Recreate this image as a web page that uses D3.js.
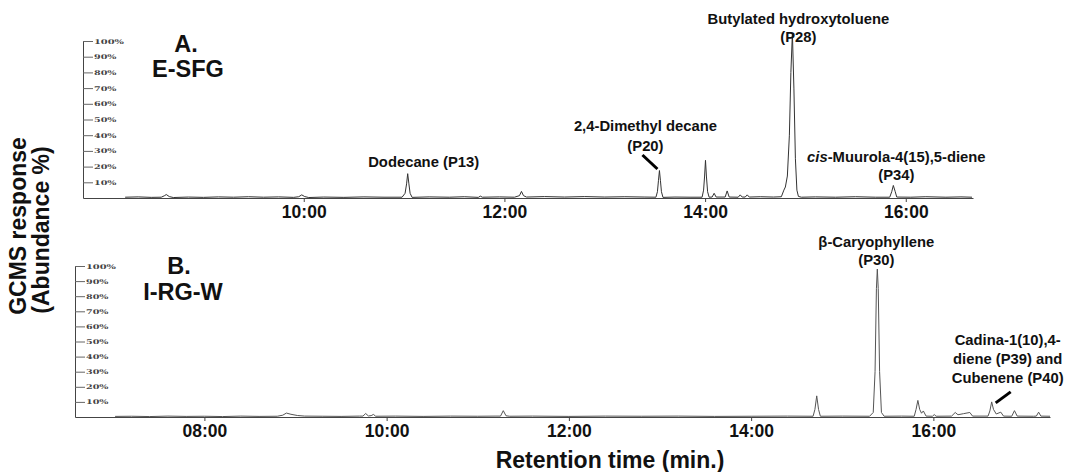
<!DOCTYPE html>
<html>
<head>
<meta charset="utf-8">
<script src="https://cdn.jsdelivr.net/npm/d3@7"></script>
<style>
  body { margin: 0; background: #fff; }
  svg { display: block; font-family: Arial, "Liberation Sans", sans-serif; }
</style>
</head>
<body>
<div id="chart"></div>
<script>
// Panel A (E-SFG) trace: [retention time (min), abundance %]
const traceA = [
  [8.22,0.5],[8.35,0.7],[8.48,0.4],[8.58,0.5],[8.61,1.4],[8.63,2.2],[8.66,0.9],[8.70,0.3],[8.85,0.6],[9.00,0.4],
  [9.15,0.7],[9.30,0.5],[9.45,0.8],[9.60,0.5],[9.75,0.7],[9.90,0.4],[9.95,0.8],[9.98,2.0],[10.01,0.9],[10.05,0.3],
  [10.20,0.6],[10.40,0.4],[10.60,0.7],[10.80,0.5],[10.98,0.5],[11.01,3],[11.025,9],[11.036,15.5],[11.048,9],[11.06,3],
  [11.08,0.4],[11.25,0.7],[11.45,0.5],[11.60,0.8],[11.74,0.4],[11.76,1.2],[11.78,0.5],[11.95,0.7],[12.10,0.5],[12.15,1.5],
  [12.17,4.2],[12.19,1.5],[12.22,0.6],[12.40,0.9],[12.60,0.6],[12.80,0.9],[13.00,0.6],[13.20,0.8],[13.40,0.6],[13.51,0.5],
  [13.525,4],[13.535,11],[13.545,17.5],[13.555,11],[13.565,4],[13.58,0.4],[13.70,0.6],[13.85,0.5],[13.97,0.5],[13.985,5],
  [13.995,14],[14.004,24],[14.013,14],[14.025,4],[14.04,0.5],[14.07,0.6],[14.09,3],[14.11,0.6],[14.20,0.6],[14.22,4.5],
  [14.24,0.6],[14.33,0.5],[14.35,2],[14.37,0.6],[14.40,0.6],[14.42,2],[14.44,0.6],[14.55,0.8],[14.68,0.6],[14.76,0.8],
  [14.785,5],[14.80,7],[14.82,14],[14.84,40],[14.855,80],[14.87,105],[14.885,70],[14.90,25],[14.915,5],[14.93,1],
  [14.96,0.5],[15.10,0.7],[15.30,0.5],[15.50,0.8],[15.70,0.5],[15.84,0.5],[15.86,4],[15.876,8],[15.895,4],[15.91,0.6],
  [16.05,0.5],[16.20,0.8],[16.40,0.5],[16.55,0.7],[16.66,0.5]
];

// Panel B (I-RG-W) trace
const traceB = [
  [7.02,0.4],[7.20,0.5],[7.40,0.3],[7.60,0.6],[7.80,0.4],[8.00,0.5],[8.20,0.3],[8.40,0.6],[8.60,0.4],[8.80,0.5],
  [8.86,1.2],[8.90,2.6],[8.95,1.8],[9.02,1.0],[9.10,0.6],[9.30,0.5],[9.50,0.4],[9.70,0.6],[9.74,0.6],[9.77,2.3],
  [9.80,0.7],[9.83,0.9],[9.855,1.7],[9.88,0.5],[10.10,0.6],[10.40,0.4],[10.70,0.6],[11.00,0.5],[11.20,0.6],[11.25,0.6],
  [11.28,4.2],[11.31,0.8],[11.35,0.5],[11.60,0.6],[12.00,0.4],[12.40,0.6],[12.80,0.5],[13.20,0.6],[13.60,0.4],[14.00,0.5],
  [14.40,0.6],[14.68,0.5],[14.70,5],[14.72,14],[14.74,5],[14.76,0.5],[15.00,0.6],[15.30,0.5],[15.34,3],[15.36,30],
  [15.375,85],[15.385,98],[15.395,85],[15.41,30],[15.43,3],[15.46,0.5],[15.65,0.6],[15.79,0.5],[15.81,5],[15.83,11],
  [15.85,5],[15.87,2.5],[15.89,4],[15.92,0.6],[15.99,0.5],[16.01,1.6],[16.03,0.5],[16.20,0.6],[16.24,3],[16.27,1.5],
  [16.33,2.2],[16.40,3],[16.43,0.6],[16.60,0.6],[16.62,4],[16.64,10],[16.66,5],[16.69,2],[16.74,3.2],[16.77,0.6],
  [16.86,0.5],[16.89,4.2],[16.92,0.6],[17.10,0.5],[17.13,0.6],[17.155,3.2],[17.18,0.6],[17.28,0.5]
];

// Axis ticks
const timeTicksA = [10, 12, 14, 16];
const timeTicksB = [8, 10, 12, 14, 16];
const pctTicks = [10, 20, 30, 40, 50, 60, 70, 80, 90, 100];

// Peak annotations: [retention time, abundance at apex, label lines]
const peaksA = [
  [11.036, 15.5, ["Dodecane (P13)"]],
  [13.545, 17.5, ["2,4-Dimethyl decane", "(P20)"]],
  [14.87, 105, ["Butylated hydroxytoluene", "(P28)"]],
  [15.876, 8, ["cis-Muurola-4(15),5-diene", "(P34)"]]
];
const peaksB = [
  [15.385, 98, ["β-Caryophyllene", "(P30)"]],
  [16.64, 10, ["Cadina-1(10),4-", "diene (P39) and", "Cubenene (P40)"]]
];

const width = 1067;
const height = 472;

const svg = d3.select("#chart")
  .append("svg")
    .attr("width", width)
    .attr("height", height);

// Label placement relative to peak apex: dx, dy of first baseline, line step, leader line
const layoutA = [
  { dx: 16, dy: -7, step: 19 },
  { dx: -14, dy: -39.5, step: 20, leader: [-17, -15.5, -2, -1.5] },
  { dx: 6, dy: -9, step: 18 },
  { dx: 3, dy: -23.5, step: 18 }
];
const layoutB = [
  { dx: -1, dy: -22, step: 17.5 },
  { dx: 16, dy: -57, step: 19, leader: [19, -10, 4, 1] }
];

const drawPanel = (cfg) => {
  const x = d3.scaleLinear().domain(cfg.xDomain).range(cfg.xRange);
  const y = d3.scaleLinear().domain([0, 100]).range(cfg.yRange);

  const g = svg.append("g");

  // Y axis (percent)
  const yAxis = g.append("g")
    .attr("transform", `translate(${cfg.xRange[0]},0)`)
    .call(d3.axisRight(y)
      .tickValues(pctTicks)
      .tickSize(10)
      .tickSizeOuter(0)
      .tickPadding(1)
      .tickFormat(d => d + "%"));
  yAxis.select(".domain").attr("stroke", "#444");
  yAxis.selectAll(".tick line").attr("stroke", "#666");
  yAxis.selectAll(".tick text")
    .attr("font-family", "'DejaVu Serif', serif")
    .attr("font-weight", "bold")
    .attr("font-size", 6.5)
    .attr("fill", "#444")
    .attr("textLength", d => String(d).length * 7.5 + 7.5)
    .attr("lengthAdjust", "spacingAndGlyphs");

  // X axis (retention time)
  const xAxis = g.append("g")
    .attr("transform", `translate(0,${y(0)})`)
    .call(d3.axisBottom(x)
      .tickValues(cfg.ticks)
      .tickSize(4)
      .tickSizeOuter(0)
      .tickPadding(4)
      .tickFormat(d => d3.format("02d")(d) + ":00"));
  xAxis.select(".domain").attr("stroke", "#444");
  xAxis.selectAll(".tick line").attr("stroke", "#444");
  xAxis.selectAll(".tick text")
    .attr("font-family", "Arial, 'Liberation Sans', sans-serif")
    .attr("font-weight", "bold")
    .attr("font-size", 17.5)
    .attr("fill", "#111");

  // Trace
  const line = d3.line()
    .x(d => x(d[0]))
    .y(d => y(d[1]));
  g.append("path")
    .datum(cfg.trace)
    .attr("d", line)
    .attr("fill", "none")
    .attr("stroke", cfg.color)
    .attr("stroke-width", 1)
    .attr("stroke-linejoin", "round");

  // Panel titles
  g.append("g")
    .attr("font-weight", "bold")
    .attr("font-size", 23.5)
    .attr("text-anchor", "middle")
    .attr("fill", "#111")
    .selectAll("text")
    .data(cfg.title)
    .join("text")
      .attr("x", (d, i) => cfg.titlePos[i][0])
      .attr("y", (d, i) => cfg.titlePos[i][1])
      .text(d => d);

  // Peak labels
  cfg.peaks.forEach((p, i) => {
    const lay = cfg.layout[i];
    const px = x(p[0]);
    const py = y(p[1]);
    const label = g.append("text")
      .attr("font-weight", "bold")
      .attr("font-size", 14.8)
      .attr("text-anchor", "middle")
      .attr("fill", "#111");
    p[2].forEach((t, k) => {
      const ts = label.append("tspan")
        .attr("x", px + lay.dx)
        .attr("y", py + lay.dy + k * lay.step);
      if (t.startsWith("cis-")) {
        ts.append("tspan").attr("font-style", "italic").text("cis");
        ts.append("tspan").text(t.slice(3));
      } else {
        ts.text(t);
      }
    });
    if (lay.leader) {
      g.append("line")
        .attr("x1", px + lay.leader[0])
        .attr("y1", py + lay.leader[1])
        .attr("x2", px + lay.leader[2])
        .attr("y2", py + lay.leader[3])
        .attr("stroke", "#000")
        .attr("stroke-width", 3);
    }
  });
};

drawPanel({
  xDomain: [7.80, 16.67], xRange: [83, 973], yRange: [198, 41],
  ticks: timeTicksA, trace: traceA, color: "#333",
  title: ["A.", "E-SFG"], titlePos: [[186, 52], [188, 77]],
  peaks: peaksA, layout: layoutA
});

drawPanel({
  xDomain: [6.58, 17.28], xRange: [75, 1050], yRange: [417, 266],
  ticks: timeTicksB, trace: traceB, color: "#555",
  title: ["B.", "I-RG-W"], titlePos: [[179, 274], [183, 300]],
  peaks: peaksB, layout: layoutB
});

// Axis titles
svg.append("text")
  .attr("x", 610)
  .attr("y", 468)
  .attr("text-anchor", "middle")
  .attr("font-weight", "bold")
  .attr("font-size", 23)
  .attr("fill", "#111")
  .text("Retention time (min.)");

const yTitle = svg.append("text")
  .attr("transform", "translate(26,226) rotate(-90)")
  .attr("text-anchor", "middle")
  .attr("font-weight", "bold")
  .attr("font-size", 23)
  .attr("fill", "#111");
yTitle.append("tspan").attr("x", 0).attr("y", 0).text("GCMS response");
yTitle.append("tspan").attr("x", -4).attr("y", 23).text("(Abundance %)");
</script>
</body>
</html>
